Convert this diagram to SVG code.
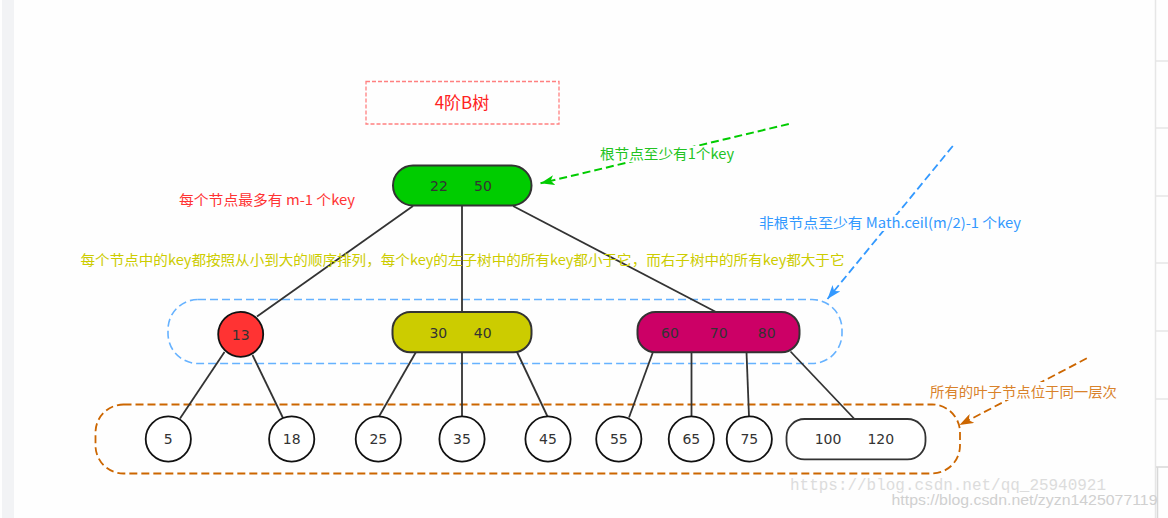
<svg xmlns="http://www.w3.org/2000/svg" width="1168" height="518" viewBox="0 0 1168 518">
<style>
.edge{stroke:#333;stroke-width:1.8;fill:none}
.node{stroke:#333;stroke-width:2}
.leaf{fill:#fff;stroke:#111;stroke-width:1.8}
.num{font-family:"DejaVu Sans",sans-serif;font-size:14px;fill:#333;text-anchor:middle}
.cjk{font-family:"Noto Sans CJK SC","Noto Sans",sans-serif;font-size:14px}
</style>
<defs>
<marker id="ag" viewBox="0 0 14 10" refX="14" refY="5" markerWidth="14" markerHeight="10" markerUnits="userSpaceOnUse" orient="auto"><path d="M0,0 L14,5 L0,10 L3.5,5 Z" fill="#00cc00"/></marker>
<marker id="ab" viewBox="0 0 14 10" refX="14" refY="5" markerWidth="14" markerHeight="10" markerUnits="userSpaceOnUse" orient="auto"><path d="M0,0 L14,5 L0,10 L3.5,5 Z" fill="#3399ff"/></marker>
<marker id="ao" viewBox="0 0 14 10" refX="14" refY="5" markerWidth="14" markerHeight="10" markerUnits="userSpaceOnUse" orient="auto"><path d="M0,0 L14,5 L0,10 L3.5,5 Z" fill="#cc6600"/></marker>
</defs>
<rect x="0" y="0" width="1168" height="518" fill="#fefefe"/>
<rect x="2" y="0" width="12" height="518" fill="#f2f3f5"/>
<g id="page-edge" stroke="#e6e6e6" stroke-width="1.5">
<line x1="1155.5" y1="0" x2="1155.5" y2="518"/>
<line x1="1156" y1="61" x2="1168" y2="61"/>
<line x1="1156" y1="128" x2="1168" y2="128"/>
<line x1="1156" y1="196" x2="1168" y2="196"/>
<line x1="1156" y1="263" x2="1168" y2="263"/>
<line x1="1156" y1="331" x2="1168" y2="331"/>
<line x1="1156" y1="399" x2="1168" y2="399"/>
<path d="M1156,467 H1168 M1157.5,467 V518" stroke="#d8d8d8"/>
</g>

<g id="groups">
<rect x="168" y="299.5" width="674" height="64" rx="30" fill="none" stroke="#66b2ff" stroke-width="1.6" stroke-dasharray="8 4"/>
<rect x="95.5" y="404.5" width="864.5" height="69" rx="28" fill="none" stroke="#cc6600" stroke-width="1.8" stroke-dasharray="8 4"/>
</g>

<g id="title">
<rect x="366" y="81.5" width="193" height="42.5" fill="none" stroke="#ff8080" stroke-width="1.3" stroke-dasharray="4 2"/>
<text x="462" y="109" font-family="'Noto Sans CJK SC','Noto Sans',sans-serif" font-size="17" fill="#ff2222" text-anchor="middle">4阶B树</text>
</g>

<g id="connectors">
<line class="edge" x1="413" y1="206" x2="257" y2="316.5"/>
<line class="edge" x1="462" y1="206" x2="462" y2="312"/>
<line class="edge" x1="513" y1="206" x2="716" y2="312"/>
<line class="edge" x1="224.5" y1="352" x2="180" y2="418.5"/>
<line class="edge" x1="252.5" y1="355" x2="283" y2="418"/>
<line class="edge" x1="416" y1="352" x2="379" y2="416.5"/>
<line class="edge" x1="462" y1="352" x2="462" y2="416.5"/>
<line class="edge" x1="517" y1="352" x2="547.5" y2="416.5"/>
<line class="edge" x1="653" y1="352" x2="629" y2="417.5"/>
<line class="edge" x1="691.5" y1="352" x2="691.5" y2="416.5"/>
<line class="edge" x1="746.5" y1="352" x2="749" y2="416.5"/>
<line class="edge" x1="790.5" y1="351.5" x2="854" y2="418.5"/>
<line x1="788.8" y1="124" x2="540.5" y2="183.3" stroke="#00cc00" stroke-width="2" stroke-dasharray="8 4" marker-end="url(#ag)"/>
<line x1="952.8" y1="146" x2="827.5" y2="299" stroke="#3399ff" stroke-width="1.8" stroke-dasharray="8 4" marker-end="url(#ab)"/>
<line x1="1086.8" y1="358.3" x2="959.5" y2="425" stroke="#cc6600" stroke-width="1.8" stroke-dasharray="8 4" marker-end="url(#ao)"/>
</g>

<g id="root">
<rect class="node" x="393" y="165.5" width="138.5" height="40" rx="20" fill="#00cc00"/>
<text class="num" x="439" y="191">22</text>
<text class="num" x="483" y="191">50</text>
</g>
<g id="n13">
<circle class="leaf" cx="240.7" cy="334.3" r="22.5" style="fill:#ff3333"/>
<text class="num" x="240.7" y="339.5">13</text>
</g>
<g id="n3040">
<rect class="node" x="392.5" y="312" width="139" height="40.3" rx="18" fill="#cccc00"/>
<text class="num" x="438.3" y="337.5">30</text>
<text class="num" x="482.7" y="337.5">40</text>
</g>
<g id="n607080">
<rect class="node" x="637.5" y="312" width="162" height="40.3" rx="18" fill="#cc0066"/>
<text class="num" x="670" y="337.5">60</text>
<text class="num" x="718.7" y="337.5">70</text>
<text class="num" x="766.7" y="337.5">80</text>
</g>
<g id="leaf5"><circle class="leaf" cx="168.3" cy="439" r="22.6"/><text class="num" x="168.3" y="444">5</text></g>
<g id="leaf18"><circle class="leaf" cx="291.7" cy="439" r="22.6"/><text class="num" x="291.7" y="444">18</text></g>
<g id="leaf25"><circle class="leaf" cx="378.3" cy="439" r="22.6"/><text class="num" x="378.3" y="444">25</text></g>
<g id="leaf35"><circle class="leaf" cx="462" cy="439" r="22.6"/><text class="num" x="462" y="444">35</text></g>
<g id="leaf45"><circle class="leaf" cx="548" cy="439" r="22.6"/><text class="num" x="548" y="444">45</text></g>
<g id="leaf55"><circle class="leaf" cx="618.8" cy="439" r="22.6"/><text class="num" x="618.8" y="444">55</text></g>
<g id="leaf65"><circle class="leaf" cx="691.3" cy="439" r="22.6"/><text class="num" x="691.3" y="444">65</text></g>
<g id="leaf75"><circle class="leaf" cx="749.3" cy="439" r="22.6"/><text class="num" x="749.3" y="444">75</text></g>
<g id="leaf100120">
<rect x="786.5" y="419" width="139" height="40.3" rx="18" fill="#fff" stroke="#333" stroke-width="1.8"/>
<text class="num" x="828" y="444">100</text>
<text class="num" x="880.8" y="444">120</text>
</g>

<g id="labels">
<text class="cjk" x="179" y="205" fill="#ff3333" textLength="176" lengthAdjust="spacingAndGlyphs">每个节点最多有 m-1 个key</text>
<text class="cjk" x="80.5" y="264.5" fill="#cccc00" textLength="764" lengthAdjust="spacingAndGlyphs">每个节点中的key都按照从小到大的顺序排列，每个key的左子树中的所有key都小于它，而右子树中的所有key都大于它</text>
<rect x="598" y="146" width="138" height="16" fill="#fefefe"/>
<text class="cjk" x="600" y="159" fill="#22c322" textLength="134" lengthAdjust="spacingAndGlyphs">根节点至少有1个key</text>
<rect x="757" y="215" width="266" height="16" fill="#fefefe"/>
<text class="cjk" x="759" y="228" fill="#3399ff" textLength="262" lengthAdjust="spacingAndGlyphs">非根节点至少有 Math.ceil(m/2)-1 个key</text>
<rect x="928" y="382" width="191" height="18" fill="#fefefe"/>
<text class="cjk" x="930" y="397" fill="#d9822b" textLength="187" lengthAdjust="spacingAndGlyphs">所有的叶子节点位于同一层次</text>
</g>

<g id="watermarks">
<text x="790" y="490" font-family="'Liberation Mono',monospace" font-size="16" fill="#dcdcdc" textLength="316" lengthAdjust="spacingAndGlyphs">https://blog.csdn.net/qq_25940921</text>
<text x="891.5" y="505" font-family="'Liberation Sans',sans-serif" font-size="14" fill="#d0d0d0" textLength="266" lengthAdjust="spacingAndGlyphs">https://blog.csdn.net/zyzn1425077119</text>
</g>
</svg>
